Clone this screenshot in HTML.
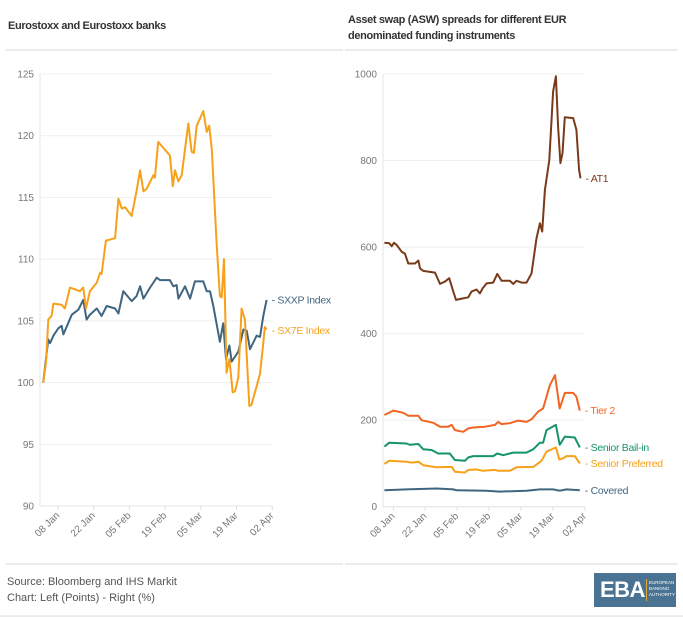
<!DOCTYPE html>
<html><head><meta charset="utf-8"><style>
body{margin:0;width:683px;height:617px;background:#fff;font-family:"Liberation Sans",sans-serif;overflow:hidden;position:relative}
.t{position:absolute;font-size:11px;color:#333;font-weight:bold;letter-spacing:-0.35px}
.sep{position:absolute;height:2px;background:#ececec}
.foot{position:absolute;left:7px;font-size:11px;color:#555}
</style></head><body>
<div class="t" style="left:8px;top:20px">Eurostoxx and Eurostoxx banks</div>
<div class="t" style="left:348px;top:12px;line-height:16px">Asset swap (ASW) spreads for different EUR<br>denominated funding instruments</div>
<div class="sep" style="left:6px;top:49px;width:337px"></div>
<div class="sep" style="left:345px;top:49px;width:333px"></div>
<div class="sep" style="left:6px;top:563px;width:337px"></div>
<div class="sep" style="left:345px;top:563px;width:333px"></div>
<div class="sep" style="left:0;top:615px;width:683px"></div>
<div class="foot" style="top:576px">Source: Bloomberg and IHS Markit</div>
<div class="foot" style="top:592px">Chart: Left (Points) - Right (%)</div>
<div style="position:absolute;left:594px;top:573px;width:82px;height:34px;background:#4a7292;color:#fff">
<span style="position:absolute;left:6px;top:4px;font-size:22px;font-weight:bold;letter-spacing:-0.5px">EBA</span>
<span style="position:absolute;left:52px;top:6px;width:1px;height:22px;background:#e0a93a"></span>
<span style="position:absolute;left:55px;top:7px;font-size:4.5px;line-height:6px">EUROPEAN<br>BANKING<br>AUTHORITY</span>
</div>
<svg id="chart" width="683" height="617" style="position:absolute;left:0;top:0"></svg>
<script>
const xTickLabels=["08 Jan","22 Jan","05 Feb","19 Feb","05 Mar","19 Mar","02 Apr"];
const xTickDays=[7,21,35,49,63,77,91];
const leftYTicks=[90,95,100,105,110,115,120,125];
const rightYTicks=[0,200,400,600,800,1000];
const sxxpDays=[1.2,3.2,3.9,5.2,7.1,8.4,9.1,12.4,15,16.9,18.2,19.5,22.2,24.1,26.1,29.4,30.7,32.6,35.9,37.8,39.2,40.5,43.1,45.7,47,50.9,52.2,53.5,54.2,56.8,58.8,60.7,64,65.3,66.6,67.9,70.5,71.8,72.9,74.2,75.1,77.7,79.7,81,82.3,84.9,86.2,87.5,88.8];
const sxxpValues=[100,103.5,103.2,103.8,104.4,104.6,103.9,105.5,105.9,106.7,105.1,105.5,106,105.4,106.2,106,105.6,107.4,106.6,107,107.8,106.8,107.7,108.5,108.3,108.3,107.8,107.9,106.8,107.8,106.8,108.2,108.2,107.4,107.4,106.2,103.3,104.8,101.9,103,101.7,102.5,104.3,104.2,102.7,103.8,103.7,105.4,106.7];
const sx7eDays=[1.2,2.3,3.2,4.5,5.2,8.4,9.7,11.7,15.6,16.9,18,19.5,22.2,23.5,24.1,25.8,29.4,30.7,32,33.3,35.9,37.8,39.2,40.5,41.8,44.4,45,46.3,50.9,52,52.9,54.2,55.5,58.1,59.4,60.3,61.4,64,65.3,66.3,67.3,69.2,70.5,71.2,72.1,73.1,74.2,75.5,76.4,77.7,79,80.3,82,82.9,86.2,87.5,88.1,88.8];
const sx7eValues=[100,101.6,105.1,105.4,106.4,106.3,106,107.7,107.4,107.7,106,107.4,108.1,108.9,108.8,111.5,111.7,114.9,114.1,114.2,113.5,115.5,117.2,115.5,115.7,116.8,116.6,119.5,118.4,115.9,117.2,116.3,116.8,121,118.7,118.6,120.8,122,120.3,120.8,118.9,111.3,107,106.9,110,100.8,101.9,99.2,99.3,100.4,106,105.1,98.1,98.2,100.7,103.2,104.5,104.3];
const at1Days=[3.1,5.2,6.3,7.3,8.5,10.7,12.1,13.6,16.5,18,18.7,20.1,25.3,27.5,29.6,31.5,33.3,34.5,37,39.9,41.3,43.5,45,46.2,47.9,50.8,52.6,54.5,58.1,59.6,61.1,63.2,65.4,67.6,69.8,71.3,72.3,73.5,75.4,77.1,78.3,79.3,80.3,81.2,82.2,85.9,87.3,88.5,89.1];
const at1Values=[610,609,602,610,605,589,585,562,562,569,551,545,541,515,520,528,497,478,481,484,497,502,493,505,516,518,538,522,522,515,522,518,518,539,620,655,636,732,801,959,995,878,794,817,900,898,871,778,759];
const tier2Days=[3.1,7,11.4,13.6,18,19.4,24.5,27.5,31.1,32.6,34,37.7,39.9,42.1,47.2,51.6,53,54.5,58.1,61.8,65.4,67.6,70.6,72.7,75.7,77.9,80,82.2,85.9,87.3,88.8];
const tier2Values=[212,222,217,210,210,200,194,185,185,189,177,173,181,183,185,189,196,191,193,199,196,202,220,227,281,304,227,263,263,254,222];
const bailinDays=[3.1,5.2,12.8,14.3,18,20.1,23.8,26.7,31.8,34,38.4,39.9,42.1,45,50.8,52.6,55.2,59.6,65.4,68.4,71.3,72.7,74.2,78.3,80,82.2,86.6,88.8];
const bailinValues=[139,148,146,143,145,133,131,123,123,108,106,114,117,117,117,123,119,125,125,133,148,148,177,189,143,162,160,137];
const preferredDays=[3.1,5.2,12.8,15,18,20.1,26,32.6,34,38.4,39.9,43.5,46.4,51.6,53,58.1,61.1,68.4,72,74.2,78.3,79.8,81.5,83,86.6,88.8];
const preferredValues=[99,106,104,102,104,96,91,92,81,79,85,86,83,85,83,83,91,92,106,127,137,109,112,117,117,100];
const coveredDays=[3.1,12.8,26,33.3,34.8,47.9,53.7,65.4,71.3,77.1,80,83,88.8];
const coveredValues=[38,40,42,40,38,37,35,37,40,40,37,40,38];

const svg=document.getElementById('chart');
const NS='http://www.w3.org/2000/svg';
function mk(tag,attrs,parent){const e=document.createElementNS(NS,tag);for(const k in attrs)e.setAttribute(k,attrs[k]);(parent||svg).appendChild(e);return e;}

function panel(cfg){
  const g=mk('g',{});
  
  
  const xS=d=>cfg.x0+(d-7)*cfg.pxDay;
  const yS=v=>cfg.yTop+(cfg.yMax-v)/(cfg.yMax-cfg.yMin)*(cfg.yBot-cfg.yTop);
  cfg.yTicks.forEach(t=>{
    const l=mk('line',{x1:cfg.axisX,x2:cfg.right,y1:yS(t),y2:yS(t),stroke:'#efefef','stroke-width':1},g);
    
    
    const tx=mk('text',{x:cfg.axisX-6,y:yS(t)+3.5,'text-anchor':'end','font-size':'10','fill':'#777'},g);
    tx.textContent=t;
    
    
  });
  const ax=mk('line',{x1:cfg.axisX,x2:cfg.axisX,y1:cfg.yTop,y2:cfg.yBot,stroke:'#e6e6e6'},g);
  
  
  const bx=mk('line',{x1:cfg.axisX,x2:cfg.right,y1:cfg.yBot,y2:cfg.yBot,stroke:'#e6e6e6'},g);
  
  
  xTickDays.forEach((d,i)=>{
    const x=xS(d);
    mk('line',{x1:x,x2:x,y1:cfg.yBot,y2:cfg.yBot+4,stroke:'#ddd'},g);
    const tx=mk('text',{x:x+2,y:cfg.yBot+10,'text-anchor':'end','font-size':'10','fill':'#777',transform:`rotate(-45 ${x+2} ${cfg.yBot+10})`},g);
    tx.textContent=xTickLabels[i];
    
    
  });
  cfg.series.forEach(s=>{
    const p=mk('path',{d:s.days.map((d,i)=>(i?'L':'M')+xS(d).toFixed(1)+','+yS(s.vals[i]).toFixed(1)).join(''),fill:'none',stroke:s.color,'stroke-width':2,'stroke-linejoin':'round'},g);
    
    
    const last=s.days.length-1;
    const lx=xS(s.days[last])+5, ly=yS(s.vals[last])+(s.dy||0);
    const tx=mk('text',{x:lx,y:ly+3.5,'font-size':'10.5','fill':s.color,'letter-spacing':'-0.3'},g);
    tx.textContent='- '+s.label;
    
    
  });
}
panel({name:'left-chart',x0:58,pxDay:2.55,axisX:40,right:273,yTop:74,yBot:506,yMin:90,yMax:125,yTicks:leftYTicks,
 series:[{name:'sxxp',label:'SXXP Index',color:'#3f6580',days:sxxpDays,vals:sxxpValues,dy:0},
         {name:'sx7e',label:'SX7E Index',color:'#f7a11a',days:sx7eDays,vals:sx7eValues,dy:1}]});
panel({name:'right-chart',x0:393.3,pxDay:2.28,axisX:383,right:585,yTop:74,yBot:506.7,yMin:0,yMax:1000,yTicks:rightYTicks,
 series:[{name:'at1',label:'AT1',color:'#7a3a1a',days:at1Days,vals:at1Values},
         {name:'tier2',label:'Tier 2',color:'#f26422',days:tier2Days,vals:tier2Values},
         {name:'senior-bail-in',label:'Senior Bail-in',color:'#15946a',days:bailinDays,vals:bailinValues},
         {name:'senior-preferred',label:'Senior Preferred',color:'#f7a11a',days:preferredDays,vals:preferredValues},
         {name:'covered',label:'Covered',color:'#3f6580',days:coveredDays,vals:coveredValues}]});
</script>
</body></html>
